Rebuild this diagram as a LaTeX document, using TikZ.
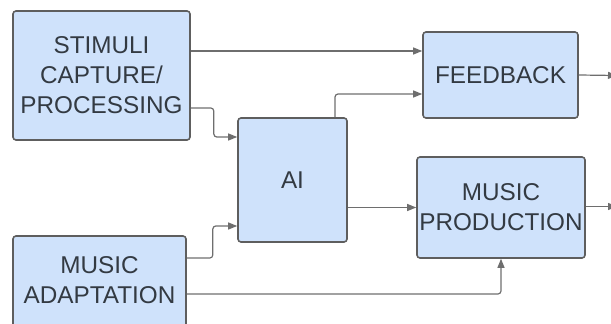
\documentclass[tikz,border=0pt]{standalone}
\usepackage{fontspec}
\setmainfont{Liberation Sans}
\usepackage{xcolor}
\usepackage{tikz}
\usetikzlibrary{positioning,calc,arrows.meta}
\definecolor{BoxBlue}{RGB}{207,226,251}
\definecolor{EdgeGray}{RGB}{94,94,94}
\definecolor{TextGray}{RGB}{51,58,66}

\begin{document}
\begin{tikzpicture}[x=1pt, y=-1pt]
	\tikzset{
		blk/.style={rectangle, rounded corners=3pt, draw=EdgeGray, line width=1.6pt,
			fill=BoxBlue, align=center, inner sep=0pt, text=TextGray,
			font=\fontsize{24.3}{30}\selectfont},
		a/.style={draw=EdgeGray!90, line width=1.2pt, rounded corners=3pt,
			-{Triangle[length=9pt, width=7pt]}}
	}
	\useasboundingbox (0,0) rectangle (611,324);
	\node[blk, minimum width=177pt, minimum height=129pt] (stim) at (101.5, 75.5) {STIMULI\\CAPTURE/\\PROCESSING};
	\node[blk, minimum width=155pt, minimum height=86pt] (fb) at (500.5, 75) {FEEDBACK};
	\node[blk, minimum width=109pt, minimum height=124pt] (ai) at (292.5, 180) {AI};
	\node[blk, minimum width=173pt, minimum height=92pt, text depth=3pt] (adapt) at (99.5, 282) {MUSIC\\ADAPTATION};
	\node[blk, minimum width=168pt, minimum height=101pt] (prod) at (501, 207.5) {MUSIC\\PRODUCTION};
	\coordinate (fbout) at (617, 75.5);
	\coordinate (prodout) at (617, 206.5);

	% connectors
	\draw[a] ([yshift=24.5pt]stim.east) -- ([yshift=24pt]fb.west);
	\draw[a] ([yshift=-32.5pt]stim.east) -- ++(23,0) |- ([yshift=43pt]ai.west);
	\draw[a] ([xshift=42.5pt]ai.north) |- ([yshift=-19pt]fb.west);
	\draw[a] (fb.east) -- (fbout);
	\draw[a] (ai.east |- prod.west) -- (prod.west);
	\draw[a] (prod.east |- prodout) -- (prodout);
	\draw[a] ([yshift=24pt]adapt.east) -- ++(26,0) |- ([yshift=-46pt]ai.west);
	\draw[a] ([yshift=-12pt]adapt.east) -| (prod.south);
\end{tikzpicture}
\end{document}
